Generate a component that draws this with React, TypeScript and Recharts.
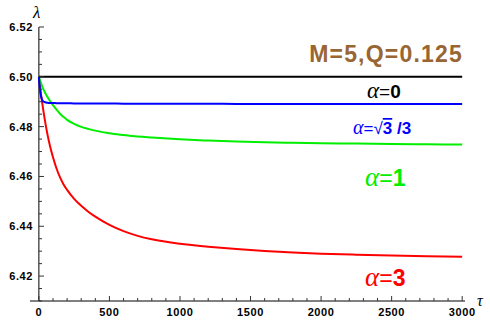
import React from "react";
import { LineChart, Line, XAxis, YAxis, ReferenceLine } from "recharts";

const tau = [0, 5, 10, 15, 20, 30, 40, 50, 60, 80, 100, 125, 150, 175, 200, 250, 300, 350, 400, 500, 600, 700, 800, 1000, 1200, 1400, 1600, 1800, 2000, 2250, 2500, 2750, 3000];
const alpha0 = [6.5, 6.5, 6.5, 6.5, 6.5, 6.5, 6.5, 6.5, 6.5, 6.5, 6.5, 6.5, 6.5, 6.5, 6.5, 6.5, 6.5, 6.5, 6.5, 6.5, 6.5, 6.5, 6.5, 6.5, 6.5, 6.5, 6.5, 6.5, 6.5, 6.5, 6.5, 6.5, 6.5];
const alphaSqrt = [6.5, 6.4965, 6.494, 6.4923, 6.4912, 6.4902, 6.4899, 6.4897, 6.4896, 6.4895, 6.4895, 6.4894, 6.4894, 6.4894, 6.4894, 6.4893, 6.4893, 6.4893, 6.4893, 6.4893, 6.4892, 6.4892, 6.4892, 6.4892, 6.4892, 6.4891, 6.4891, 6.4891, 6.4891, 6.4891, 6.4891, 6.4891, 6.4891];
const alpha1 = [6.5, 6.4991, 6.4983, 6.4975, 6.4967, 6.4953, 6.4941, 6.493, 6.492, 6.4902, 6.4886, 6.4868, 6.4852, 6.4839, 6.4827, 6.4811, 6.4799, 6.4791, 6.4784, 6.4773, 6.4766, 6.476, 6.4756, 6.4749, 6.4744, 6.474, 6.4737, 6.4735, 6.4733, 6.4732, 6.473, 6.4729, 6.4728];
const alpha3 = [6.5, 6.4976, 6.4953, 6.493, 6.491, 6.487, 6.4834, 6.4801, 6.4771, 6.4719, 6.4677, 6.4632, 6.4596, 6.4568, 6.4546, 6.451, 6.4482, 6.44585, 6.44385, 6.44055, 6.43805, 6.43615, 6.43475, 6.43295, 6.4318, 6.43085, 6.4301, 6.4295, 6.429, 6.4286, 6.4283, 6.428, 6.4278];

const xTicks = [0, 100, 200, 300, 400, 500, 600, 700, 800, 900, 1000, 1100, 1200, 1300, 1400, 1500, 1600, 1700, 1800, 1900, 2000, 2100, 2200, 2300, 2400, 2500, 2600, 2700, 2800, 2900, 3000];
const yTicks = [6.41, 6.415, 6.42, 6.425, 6.43, 6.435, 6.44, 6.445, 6.45, 6.455, 6.46, 6.465, 6.47, 6.475, 6.48, 6.485, 6.49, 6.495, 6.5, 6.505, 6.51, 6.515, 6.52];

const data = tau.map((t, i) => ({ t, a0: alpha0[i], as: alphaSqrt[i], a1: alpha1[i], a3: alpha3[i] }));

const sans = "'Liberation Sans', Arial, sans-serif";
const serif = "'Liberation Serif', 'DejaVu Serif', serif";

const YTick = (props: any) => {
  const { x, y, payload } = props;
  const v = payload.value;
  const major = Math.round(v * 1000) % 20 === 0;
  const ax = x + 9;
  return (
    <g>
      <line x1={ax} x2={ax + (major ? 5 : 3)} y1={y} y2={y} stroke="#333" strokeWidth={1} />
      {major && (
        <text x={x + 3} y={y + 4} textAnchor="end" fontFamily={sans} fontWeight="bold" fontSize={11} letterSpacing={0.6} fill="#000">
          {v.toFixed(2)}
        </text>
      )}
    </g>
  );
};

const XTick = (props: any) => {
  const { x, y, payload } = props;
  const v = payload.value;
  const major = v % 500 === 0;
  return (
    <g>
      <line x1={x} x2={x} y1={y} y2={y - (major ? 5 : 3)} stroke="#333" strokeWidth={1} />
      {major && (
        <text x={x} y={y + 15} textAnchor="middle" fontFamily={sans} fontWeight="bold" fontSize={11} letterSpacing={0.6} fill="#000">
          {v}
        </text>
      )}
    </g>
  );
};

export default function App() {
  return (
    <div style={{ position: "absolute", left: 0, top: 0, width: 490, height: 323, background: "#fff" }}>
      <LineChart width={490} height={323} data={data} margin={{ top: 27, right: 25, left: 0, bottom: 0 }}>
        <XAxis
          dataKey="t"
          type="number"
          domain={[-63, 3020]}
          ticks={xTicks}
          interval={0}
          tick={<XTick />}
          tickLine={false}
          tickSize={0}
          tickMargin={0}
          height={22}
          axisLine={{ stroke: "#000", strokeWidth: 1 }}
          allowDataOverflow
        />
        <YAxis
          type="number"
          domain={[6.41, 6.52]}
          ticks={yTicks}
          interval={0}
          tick={<YTick />}
          tickLine={false}
          tickSize={0}
          tickMargin={0}
          width={30}
          axisLine={false}
          allowDataOverflow
        />
        <ReferenceLine x={0} stroke="#000" strokeWidth={1} />
        <Line dataKey="a3" type="monotone" stroke="#ff0000" strokeWidth={2} dot={false} isAnimationActive={false} />
        <Line dataKey="a1" type="monotone" stroke="#00ee00" strokeWidth={2} dot={false} isAnimationActive={false} />
        <Line dataKey="as" type="monotone" stroke="#0000ff" strokeWidth={2} dot={false} isAnimationActive={false} />
        <Line dataKey="a0" type="monotone" stroke="#000000" strokeWidth={2} dot={false} isAnimationActive={false} />
        <text x={33} y={18} fontFamily={serif} fontStyle="italic" fontSize={17} fill="#000">λ</text>
        <text x={477} y={306} fontFamily={serif} fontStyle="italic" fontSize={16} fill="#000">τ</text>
        <text x={463} y={62} textAnchor="end" fontFamily={sans} fontWeight="bold" fontSize={23} letterSpacing={1.2} fill="#996633">M=5,Q=0.125</text>
        <text x={367} y={98} fontFamily={sans} fontSize={19} fill="#000">
          <tspan fontFamily={serif} fontStyle="italic" fontSize={23}>α</tspan>
          <tspan>=</tspan>
          <tspan fontWeight="bold">0</tspan>
        </text>
        <text x={353} y={134} fontFamily={sans} fontSize={17} fill="#0000ff">
          <tspan fontFamily={serif} fontStyle="italic" fontSize={20}>α</tspan>
          <tspan>=√</tspan>
          <tspan fontWeight="bold" textDecoration="overline">3</tspan>
          <tspan fontWeight="bold"> /3</tspan>
        </text>
        <text x={365} y={186} fontFamily={sans} fontSize={23} fill="#00ee00">
          <tspan fontFamily={serif} fontStyle="italic" fontSize={27}>α</tspan>
          <tspan>=</tspan>
          <tspan fontWeight="bold">1</tspan>
        </text>
        <text x={365} y={286} fontFamily={sans} fontSize={23} fill="#ff0000">
          <tspan fontFamily={serif} fontStyle="italic" fontSize={27}>α</tspan>
          <tspan>=</tspan>
          <tspan fontWeight="bold">3</tspan>
        </text>
      </LineChart>
    </div>
  );
}
